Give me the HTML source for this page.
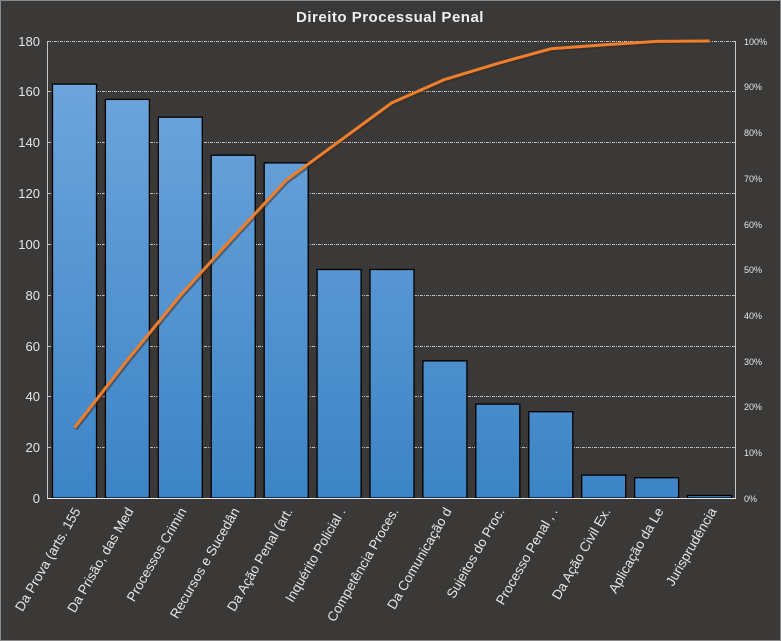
<!DOCTYPE html>
<html><head><meta charset="utf-8"><style>
html,body{margin:0;padding:0;background:#3a3938;}
svg{display:block;font-family:"Liberation Sans","DejaVu Sans",sans-serif;}
</style></head><body>
<svg width="781" height="641" viewBox="0 0 781 641">
<defs>
<linearGradient id="g" gradientUnits="userSpaceOnUse" x1="0" y1="41" x2="0" y2="498">
<stop offset="0" stop-color="#72a8de"/><stop offset="1" stop-color="#3c84c6"/>
</linearGradient>
</defs>
<rect x="0.5" y="0.5" width="780" height="640" fill="#3a3938" stroke="#8a8a8a"/>
<text x="390" y="22" text-anchor="middle" fill="#f0f0f0" font-size="15" font-weight="bold" letter-spacing="0.5">Direito  Processual  Penal</text>
<g stroke="#bdbdbd" stroke-width="1" stroke-dasharray="3,1,1,1">
<line x1="48" x2="736" y1="41.5" y2="41.5"/>
<line x1="48" x2="736" y1="91.5" y2="91.5"/>
<line x1="48" x2="736" y1="142.5" y2="142.5"/>
<line x1="48" x2="736" y1="193.5" y2="193.5"/>
<line x1="48" x2="736" y1="244.5" y2="244.5"/>
<line x1="48" x2="736" y1="295.5" y2="295.5"/>
<line x1="48" x2="736" y1="346.5" y2="346.5"/>
<line x1="48" x2="736" y1="396.5" y2="396.5"/>
<line x1="48" x2="736" y1="447.5" y2="447.5"/>
</g>
<g fill="url(#g)" stroke="#000" stroke-width="1.3">
<rect x="52.5" y="84.1" width="44" height="413.9"/>
<rect x="105.4" y="99.4" width="44" height="398.6"/>
<rect x="158.3" y="117.2" width="44" height="380.8"/>
<rect x="211.2" y="155.2" width="44" height="342.8"/>
<rect x="264.2" y="162.9" width="44" height="335.1"/>
<rect x="317.1" y="269.5" width="44" height="228.5"/>
<rect x="370" y="269.5" width="44" height="228.5"/>
<rect x="422.9" y="360.9" width="44" height="137.1"/>
<rect x="475.8" y="404.1" width="44" height="93.9"/>
<rect x="528.8" y="411.7" width="44" height="86.3"/>
<rect x="581.7" y="475.1" width="44" height="22.9"/>
<rect x="634.6" y="477.7" width="44" height="20.3"/>
<rect x="687.5" y="495.5" width="44" height="2.5"/>
</g>
<g stroke="#c8c8c8" stroke-width="1" fill="none">
<line x1="47.5" y1="41" x2="47.5" y2="499"/>
<line x1="735.5" y1="41" x2="735.5" y2="499"/>
<line x1="47" y1="498.5" x2="736" y2="498.5" stroke="#e8e8e8"/>
</g>
<polyline fill="none" stroke="#3a2a20" stroke-width="4" opacity="0.5" transform="translate(1,1.5)" points="74.5,427.7 127.4,360 180.3,295.4 233.2,237.2 286.2,180.2 339.1,141.4 392,102.7 444.9,79.4 497.8,63.4 550.8,48.8 603.7,44.9 656.6,41.4 709.5,41"/>
<polyline fill="none" stroke="#f07f2c" stroke-width="3" stroke-linejoin="round" points="74.5,427.7 127.4,360 180.3,295.4 233.2,237.2 286.2,180.2 339.1,141.4 392,102.7 444.9,79.4 497.8,63.4 550.8,48.8 603.7,44.9 656.6,41.4 709.5,41"/>
<g fill="#e6e6e6" font-size="13" text-anchor="end">
<text x="40" y="46">180</text><text x="40" y="96">160</text><text x="40" y="147">140</text>
<text x="40" y="198">120</text><text x="40" y="249">100</text><text x="40" y="300">80</text>
<text x="40" y="351">60</text><text x="40" y="401">40</text><text x="40" y="452">20</text>
<text x="40" y="503">0</text>
</g>
<g fill="#e6e6e6" font-size="9">
<text x="744" y="45">100%</text><text x="744" y="90">90%</text><text x="744" y="136">80%</text>
<text x="744" y="182">70%</text><text x="744" y="228">60%</text><text x="744" y="273">50%</text>
<text x="744" y="319">40%</text><text x="744" y="365">30%</text><text x="744" y="410">20%</text>
<text x="744" y="456">10%</text><text x="744" y="502">0%</text>
</g>
<g fill="#e6e6e6" font-size="13.5" text-anchor="end">
<text transform="translate(81,511) rotate(-60)">Da Prova (arts. 155</text>
<text transform="translate(134,511) rotate(-60)">Da Prisão, das Med</text>
<text transform="translate(187,511) rotate(-60)">Processos Crimin</text>
<text transform="translate(240,511) rotate(-60)">Recursos e Sucedân</text>
<text transform="translate(293,511) rotate(-60)">Da Ação Penal (art.</text>
<text transform="translate(346,511) rotate(-60)">Inquérito Policial .</text>
<text transform="translate(399,511) rotate(-60)">Competência Proces.</text>
<text transform="translate(452,511) rotate(-60)">Da Comunicação d</text>
<text transform="translate(505,511) rotate(-60)">Sujeitos do Proc.</text>
<text transform="translate(558,511) rotate(-60)">Processo Penal ,  .</text>
<text transform="translate(611,511) rotate(-60)">Da Ação Civil Ex.</text>
<text transform="translate(664,511) rotate(-60)">Aplicação da Le</text>
<text transform="translate(717,511) rotate(-60)">Jurisprudência</text>
</g>
</svg>
</body></html>
